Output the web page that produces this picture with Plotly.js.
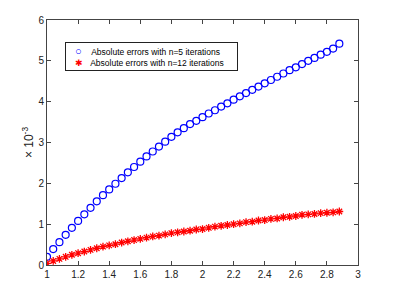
<!DOCTYPE html>
<html>
<head>
<meta charset="utf-8">
<script src="https://cdn.plot.ly/plotly-3.0.1.min.js"></script>
<style>html,body{margin:0;padding:0;background:#fff;}#chart{width:397px;height:292px;}</style>
</head>
<body>
<div id="chart"></div>
<script>
var xValues = [1.00,1.04,1.08,1.12,1.16,1.20,1.24,1.28,1.32,1.36,1.40,1.44,1.48,1.52,1.56,1.60,1.64,1.68,1.72,1.76,1.80,1.84,1.88,1.92,1.96,2.00,2.04,2.08,2.12,2.16,2.20,2.24,2.28,2.32,2.36,2.40,2.44,2.48,2.52,2.56,2.60,2.64,2.68,2.72,2.76,2.80,2.84,2.88];
var errorsN5 = [0.20,0.39,0.56,0.74,0.91,1.08,1.24,1.40,1.56,1.71,1.85,1.99,2.13,2.27,2.40,2.53,2.66,2.78,2.90,3.02,3.14,3.25,3.35,3.45,3.53,3.62,3.71,3.79,3.88,3.96,4.05,4.13,4.21,4.29,4.37,4.45,4.53,4.61,4.69,4.77,4.84,4.92,5.00,5.07,5.15,5.22,5.30,5.42];
var errorsN12 = [0.04,0.10,0.15,0.20,0.25,0.29,0.33,0.37,0.41,0.45,0.48,0.51,0.55,0.58,0.61,0.64,0.67,0.70,0.72,0.75,0.78,0.80,0.82,0.84,0.87,0.88,0.91,0.94,0.96,0.98,1.00,1.02,1.05,1.06,1.09,1.10,1.13,1.14,1.17,1.18,1.20,1.23,1.24,1.25,1.27,1.28,1.29,1.31];
var seriesNames = ['Absolute errors with n=5 iterations','Absolute errors with n=12 iterations'];
var xTicks = [1,1.2,1.4,1.6,1.8,2,2.2,2.4,2.6,2.8,3];
var yTicks = [0,1,2,3,4,5,6];

var font = 'Liberation Sans, Arial, sans-serif';
var colors = ['#0000ff', '#ff0000'];
var traces = [
  {x: xValues, y: errorsN5, name: seriesNames[0], type: 'scatter', mode: 'markers',
   marker: {symbol: 'circle-open', size: 7, color: colors[0], line: {width: 1.2, color: colors[0]}}},
  {x: xValues, y: errorsN12, name: seriesNames[1], type: 'scatter', mode: 'markers',
   marker: {symbol: 'asterisk-open', size: 6.5, color: colors[1], line: {width: 1.3, color: colors[1]}}}
];
var axisCommon = {showgrid: false, zeroline: false, showline: true, linecolor: '#444', linewidth: 1,
  mirror: 'ticks', ticks: 'inside', ticklen: 4, tickcolor: '#444',
  tickfont: {family: font, size: 10, color: '#222'}};
var pad = '&nbsp;&nbsp;&nbsp;';
var legendText = pad + '<span style="color:' + colors[0] + ';font-size:11px">○</span>&nbsp;&nbsp;&nbsp;&nbsp;' + seriesNames[0] +
  '<br>' + pad + '<span style="color:' + colors[1] + ';font-size:9px">✱</span>&nbsp;&nbsp;&nbsp;' + seriesNames[1] + pad + '&nbsp;&nbsp;';
var layout = {
  width: 397, height: 292,
  margin: {l: 47, r: 39, t: 20, b: 27},
  paper_bgcolor: '#fff', plot_bgcolor: '#fff',
  showlegend: false,
  xaxis: Object.assign({}, axisCommon, {range: [1, 3], tickvals: xTicks, ticktext: xTicks.map(String)}),
  yaxis: Object.assign({}, axisCommon, {range: [0, 6], tickvals: yTicks, ticktext: yTicks.map(String),
    title: {text: '× 10<sup>-3</sup>', font: {family: font, size: 12, color: '#222'}, standoff: 2}}),
  annotations: [{
    xref: 'paper', yref: 'paper', x: 0.058, y: 0.912, xanchor: 'left', yanchor: 'top',
    showarrow: false, align: 'left', text: legendText,
    font: {family: font, size: 8.5, color: '#000'},
    bgcolor: '#fff', bordercolor: '#222', borderwidth: 1, borderpad: 2
  }]
};
Plotly.newPlot('chart', traces, layout, {staticPlot: true, displayModeBar: false});
</script>
</body>
</html>
